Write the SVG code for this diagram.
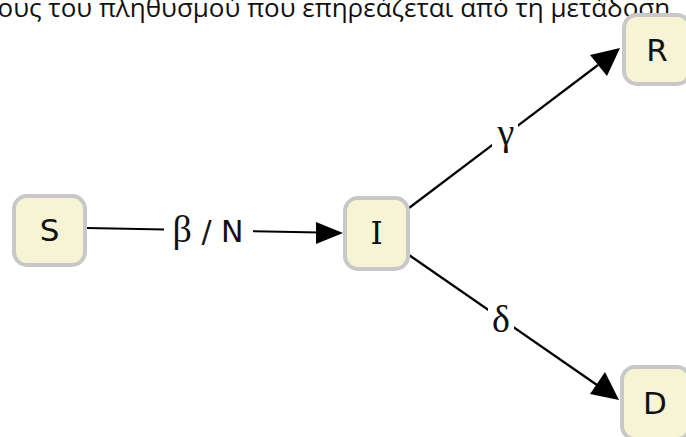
<svg xmlns="http://www.w3.org/2000/svg" width="686" height="437" viewBox="0 0 686 437">
  <style>
    .node rect { fill: #f7f4d6; stroke: #c8c8c8; stroke-width: 4; }
    .node text { font-family: "DejaVu Sans", "Liberation Sans", sans-serif; font-size: 31px; fill: #111; text-anchor: middle; }
    .node text.serif { font-family: "DejaVu Serif", "Liberation Serif", serif; }
    .gap { fill: #fff; }
    .lbl { font-family: "Liberation Serif", "DejaVu Serif", serif; font-size: 38px; fill: #111; text-anchor: middle; }
    .lbl .sans { font-family: "DejaVu Sans", "Liberation Sans", sans-serif; font-size: 30px; }
    .caption { font-family: "Open Sans", "Noto Sans", sans-serif; font-size: 26px; fill: #111; text-anchor: end; }
  </style>
  <rect width="686" height="437" fill="#fff"/>

  <text class="caption" x="677" y="17">όσους του πληθυσμού που επηρεάζεται από τη μετάδοση.</text>

  <g id="connectors" stroke="#000" stroke-width="2.2">
    <line x1="87" y1="228" x2="320" y2="232.5"/>
    <path d="M316,222 L343,233 L316,244 Z" fill="#000" stroke="none"/>
    <rect class="gap" x="164" y="210" width="89" height="36" stroke="none"/>
    <text class="lbl" x="208" y="242" stroke="none">β<tspan class="sans"> / N</tspan></text>

    <line x1="409" y1="208" x2="598" y2="65"/>
    <path d="M620,48 L607,76 L590,55 Z" fill="#000" stroke="none"/>
    <rect class="gap" x="492" y="118" width="26" height="32" stroke="none"/>
    <text class="lbl" x="506" y="145" stroke="none">γ</text>

    <line x1="409" y1="255" x2="597" y2="385"/>
    <path d="M619,400 L590,394 L605,372 Z" fill="#000" stroke="none"/>
    <rect class="gap" x="488" y="302" width="26" height="34" stroke="none"/>
    <text class="lbl" x="501" y="332" stroke="none">δ</text>
  </g>

  <g id="node-S" class="node">
    <rect x="14" y="196" width="71" height="69" rx="13"/>
    <text x="49.5" y="241">S</text>
  </g>
  <g id="node-I" class="node">
    <rect x="345" y="198" width="63" height="71" rx="13"/>
    <text class="serif" x="376.5" y="244">I</text>
  </g>
  <g id="node-R" class="node">
    <rect x="624" y="15" width="66" height="69" rx="13"/>
    <text x="657" y="61">R</text>
  </g>
  <g id="node-D" class="node">
    <rect x="622" y="367" width="68" height="72" rx="13"/>
    <text x="655" y="414">D</text>
  </g>
</svg>
